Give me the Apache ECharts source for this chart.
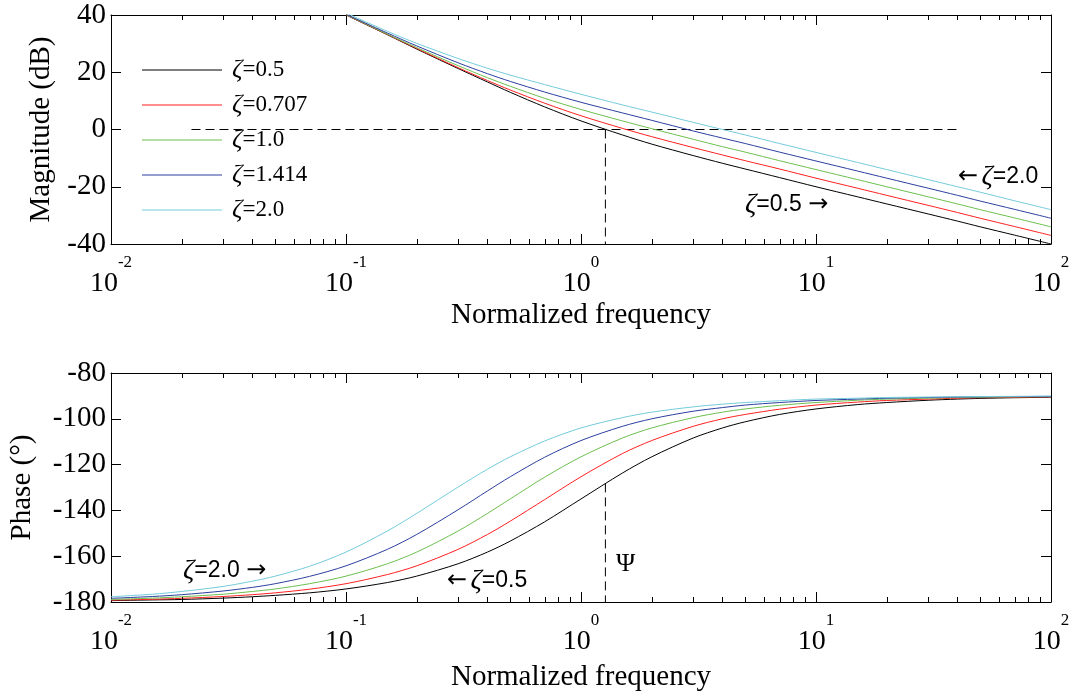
<!DOCTYPE html>
<html>
<head>
<meta charset="utf-8">
<script src="https://cdn.jsdelivr.net/npm/echarts@6/dist/echarts.min.js"></script>
<style>
html, body { margin: 0; padding: 0; background: #fff; }
#chart { width: 1077px; height: 698px; }
</style>
</head>
<body>
<div id="chart"></div>
<script>
// 阻尼比 / series names
var zetaNames = ['ζ=0.5', 'ζ=0.707', 'ζ=1.0', 'ζ=1.414', 'ζ=2.0'];
var zetaColors = ['#000000', '#ff2020', '#6cbf4f', '#2c3f9f', '#74cbdb'];

// magnitude (dB)
var magFreq = [0.1, 0.15, 0.2, 0.3, 0.4, 0.5, 0.7, 1, 1.5, 2, 3, 4, 5, 7, 10, 15, 20, 30, 40, 50, 70, 100];
var mag05   = [40.0, 33.1, 28.1, 21.3, 16.6, 13.0, 7.9, 3.0, -1.9, -5.1, -9.1, -11.8, -13.8, -16.8, -20.0, -23.5, -26.0, -29.5, -32.0, -34.0, -36.9, -40.0];
var mag0707 = [40.1, 33.2, 28.3, 21.6, 17.1, 13.8, 9.2, 4.8, 0.4, -2.5, -6.3, -8.9, -10.9, -13.8, -17.0, -20.5, -23.0, -26.5, -29.0, -31.0, -33.9, -37.0];
var mag10   = [40.2, 33.3, 28.6, 22.3, 18.1, 15.1, 10.9, 7.0, 3.0, 0.3, -3.4, -6.0, -7.9, -10.9, -14.0, -17.5, -20.0, -23.5, -26.0, -28.0, -30.9, -34.0];
var mag1414 = [40.3, 33.7, 29.2, 23.3, 19.5, 16.8, 13.1, 9.5, 5.8, 3.2, -0.5, -3.0, -4.9, -7.9, -11.0, -14.5, -17.0, -20.5, -23.0, -25.0, -27.9, -31.0];
var mag20   = [40.7, 34.3, 30.1, 24.8, 21.4, 19.0, 15.7, 12.3, 8.6, 6.1, 2.5, 0.0, -1.9, -4.9, -8.0, -11.5, -14.0, -17.5, -20.0, -21.9, -24.9, -28.0];

// phase (deg)
var phaseFreq = [0.01, 0.015, 0.02, 0.03, 0.04, 0.05, 0.07, 0.1, 0.15, 0.2, 0.3, 0.4, 0.5, 0.7, 1, 1.5, 2, 3, 4, 5, 7, 10, 15, 20, 30, 40, 50, 70, 100];
var ph05   = [-179.4, -179.1, -178.9, -178.3, -177.7, -177.1, -176.0, -174.3, -171.5, -168.7, -163.3, -158.2, -153.4, -145.0, -135.0, -123.7, -116.6, -108.4, -104.0, -101.3, -98.1, -95.7, -93.8, -92.9, -91.9, -91.4, -91.1, -90.8, -90.6];
var ph0707 = [-179.2, -178.8, -178.4, -177.6, -176.8, -176.0, -174.4, -172.0, -168.0, -164.2, -157.0, -150.5, -144.7, -135.3, -125.3, -115.2, -109.5, -103.3, -100.0, -98.1, -95.8, -94.0, -92.7, -92.0, -91.4, -91.0, -90.8, -90.6, -90.4];
var ph10   = [-178.9, -178.3, -177.7, -176.6, -175.4, -174.3, -172.0, -168.7, -163.3, -158.2, -149.0, -141.3, -135.0, -125.5, -116.6, -108.4, -104.0, -99.5, -97.1, -95.7, -94.1, -92.9, -91.9, -91.4, -91.0, -90.7, -90.6, -90.4, -90.3];
var ph1414 = [-178.4, -177.6, -176.8, -175.2, -173.6, -172.0, -168.8, -164.2, -157.0, -150.5, -139.7, -131.5, -125.3, -116.8, -109.5, -103.3, -100.0, -96.7, -95.1, -94.0, -92.9, -92.0, -91.4, -91.0, -90.7, -90.5, -90.4, -90.3, -90.2];
var ph20   = [-177.7, -176.6, -175.4, -173.2, -170.9, -168.7, -164.4, -158.2, -149.0, -141.3, -129.8, -122.0, -116.6, -109.7, -104.0, -99.5, -97.1, -94.8, -93.6, -92.9, -92.1, -91.4, -91.0, -90.7, -90.5, -90.4, -90.3, -90.2, -90.1];

// 参考虚线
var zeroDbLine = [0.022, 40];
var crossFreq = 1.27;
var crossPhase = -128.2;

// log minor ticks
var minorTicks = [0.02, 0.03, 0.04, 0.05, 0.06, 0.07, 0.08, 0.09,
                  0.2, 0.3, 0.4, 0.5, 0.6, 0.7, 0.8, 0.9,
                  2, 3, 4, 5, 6, 7, 8, 9,
                  20, 30, 40, 50, 60, 70, 80, 90];

var magSeries = [mag05, mag0707, mag10, mag1414, mag20];
var phSeries = [ph05, ph0707, ph10, ph1414, ph20];

var SERIF = 'Liberation Serif';
var SANS = 'Liberation Sans';

function pairs(xs, ys) {
  return xs.map(function (x, i) { return [x, ys[i]]; });
}

function decadeLabel(v) {
  var e = Math.round(Math.log(v) / Math.LN10);
  return '{b|10}{s|' + e + '}';
}

var labelRich = {
  b: { fontFamily: SERIF, fontSize: 28, color: '#000', verticalAlign: 'bottom', lineHeight: 44 },
  s: { fontFamily: SERIF, fontSize: 17, color: '#000', verticalAlign: 'top', lineHeight: 16 }
};

function xAxisOpt(gridIndex, pos, name, nameGap) {
  var bottom = pos === 'bottom';
  return {
    type: 'log', logBase: 10, gridIndex: gridIndex, position: pos,
    min: 0.01, max: 100,
    name: bottom ? name : '', nameLocation: 'middle', nameGap: nameGap, nameMoveOverlap: false,
    nameTextStyle: { fontFamily: SERIF, fontSize: 29, color: '#000' },
    axisLine: { show: true, onZero: false, lineStyle: { color: '#000', width: 1 } },
    axisTick: { show: true, inside: true, length: 10, lineStyle: { color: '#000' } },
    axisLabel: bottom ? { show: true, margin: 10, formatter: decadeLabel, rich: labelRich, showMinLabel: true, showMaxLabel: true } : { show: false },
    splitLine: { show: false }
  };
}

function yAxisOpt(gridIndex, pos, min, max, name, nameGap) {
  var left = pos === 'left';
  return {
    type: 'value', gridIndex: gridIndex, position: pos,
    min: min, max: max, interval: 20,
    name: left ? name : '', nameLocation: 'middle', nameGap: nameGap, nameRotate: 90,
    nameTextStyle: { fontFamily: SERIF, fontSize: 29, color: '#000' },
    axisLine: { show: true, onZero: false, lineStyle: { color: '#000', width: 1 } },
    axisTick: { show: true, inside: true, length: 10, lineStyle: { color: '#000' } },
    axisLabel: left ? { show: true, margin: 5, fontFamily: SERIF, fontSize: 29, color: '#000' } : { show: false },
    splitLine: { show: false }
  };
}

function minorTickSeries(xIdx, yIdx, yMin) {
  return {
    type: 'custom', xAxisIndex: xIdx, yAxisIndex: yIdx, silent: true, clip: false, z: 5,
    data: minorTicks.map(function (v) { return [v, yMin]; }),
    renderItem: function (params, api) {
      var cs = params.coordSys;
      var x = Math.round(api.coord([api.value(0), yMin])[0]) + 0.5;
      var yb = cs.y + cs.height, yt = cs.y;
      return {
        type: 'group',
        children: [
          { type: 'line', shape: { x1: x, y1: yb, x2: x, y2: yb - 5 }, style: { stroke: '#000', lineWidth: 1 } },
          { type: 'line', shape: { x1: x, y1: yt, x2: x, y2: yt + 5 }, style: { stroke: '#000', lineWidth: 1 } }
        ]
      };
    }
  };
}

function dashed(xIdx, yIdx, data) {
  return {
    type: 'line', xAxisIndex: xIdx, yAxisIndex: yIdx, data: data,
    symbol: 'none', silent: true, z: 1,
    lineStyle: { color: '#000', width: 1, type: [9, 5] }
  };
}

var series = [];
zetaNames.forEach(function (nm, i) {
  series.push({
    name: nm, type: 'line', xAxisIndex: 0, yAxisIndex: 0,
    data: pairs(magFreq, magSeries[i]), symbol: 'none', smooth: 0.3, clip: true,
    color: zetaColors[i], lineStyle: { width: 1, color: zetaColors[i] }, z: 3
  });
  series.push({
    name: nm, type: 'line', xAxisIndex: 2, yAxisIndex: 2,
    data: pairs(phaseFreq, phSeries[i]), symbol: 'none', smooth: 0.3, clip: true,
    color: zetaColors[i], lineStyle: { width: 1, color: zetaColors[i] }, z: 3
  });
});
series.push(dashed(0, 0, [[zeroDbLine[0], 0], [zeroDbLine[1], 0]]));
series.push(dashed(0, 0, [[crossFreq, 0], [crossFreq, -40]]));
series.push(dashed(2, 2, [[crossFreq, crossPhase], [crossFreq, -180]]));
series.push(minorTickSeries(0, 0, -40));
series.push(minorTickSeries(2, 2, -180));

var annRich = {
  z: { fontFamily: SERIF, fontStyle: 'italic', fontSize: 28, color: '#000' },
  t: { fontFamily: SANS, fontSize: 23, color: '#000' },
  a: { fontFamily: 'DejaVu Sans', fontSize: 24, color: '#000' }
};
function note(left, top, text) {
  return { type: 'text', left: left, top: top, z: 10,
    style: { text: text, rich: annRich } };
}

var myChart = echarts.init(document.getElementById('chart'), null, { renderer: 'canvas' });
myChart.setOption({
  animation: false,
  backgroundColor: '#fff',
  grid: [
    { left: 111, top: 15, width: 940, height: 229, containLabel: false, outerBoundsMode: 'none' },
    { left: 111, top: 373, width: 940, height: 229, containLabel: false, outerBoundsMode: 'none' }
  ],
  legend: {
    data: zetaNames, orient: 'vertical', left: 142, top: 57, padding: 0,
    icon: 'rect', itemWidth: 80, itemHeight: 1, itemGap: 9,
    formatter: function (n) { return '{z|ζ}{t|' + n.slice(1) + '}'; },
    textStyle: {
      padding: [0, 0, 0, 5],
      rich: {
        z: { fontFamily: SERIF, fontStyle: 'italic', fontSize: 26, color: '#000' },
        t: { fontFamily: SERIF, fontSize: 23, color: '#000' }
      }
    }
  },
  xAxis: [
    xAxisOpt(0, 'bottom', 'Normalized frequency', 57),
    xAxisOpt(0, 'top', '', 0),
    xAxisOpt(1, 'bottom', 'Normalized frequency', 61),
    xAxisOpt(1, 'top', '', 0)
  ],
  yAxis: [
    yAxisOpt(0, 'left', -40, 40, 'Magnitude (dB)', 55),
    yAxisOpt(0, 'right', -40, 40, '', 0),
    yAxisOpt(1, 'left', -180, -80, 'Phase (°)', 74),
    yAxisOpt(1, 'right', -180, -80, '', 0)
  ],
  series: series,
  graphic: [
    note(745, 191, '{z|ζ}{t|=0.5 }{a|→}'),
    note(958, 163, '{a|←} {z|ζ}{t|=2.0}'),
    note(183, 557, '{z|ζ}{t|=2.0 }{a|→}'),
    note(447, 567, '{a|←} {z|ζ}{t|=0.5}'),
    { type: 'text', left: 616, top: 551, z: 10,
      style: { text: 'Ψ', fontFamily: SERIF, fontSize: 26, fill: '#000' } }
  ]
});
</script>
</body>
</html>
